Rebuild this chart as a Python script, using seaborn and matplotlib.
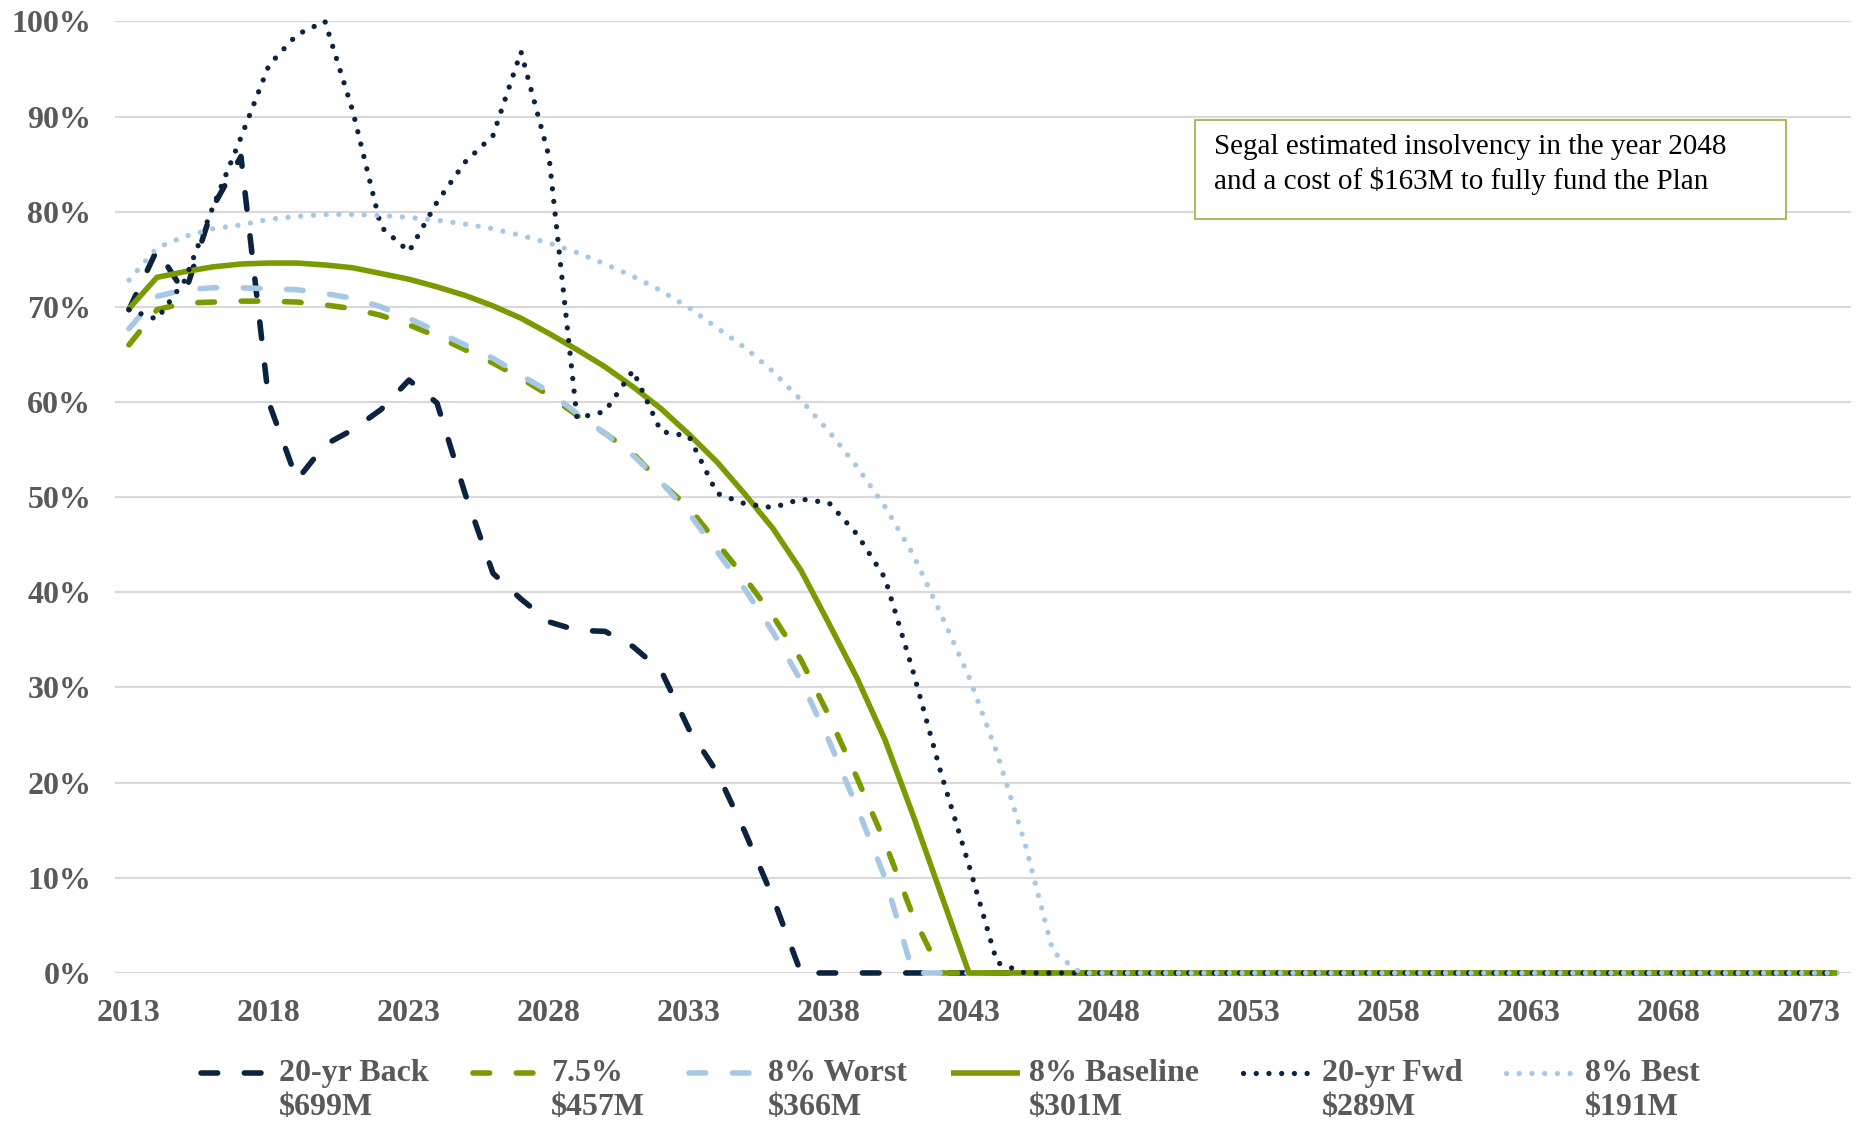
import numpy as np
import pandas as pd
import matplotlib
matplotlib.use('Agg')
import matplotlib.pyplot as plt
from matplotlib.patches import Rectangle
from matplotlib.legend_handler import HandlerLine2D
import seaborn as sns

# funded percentage by plan year
years = list(range(2013, 2075))

back_20yr = [69.7, 76.0, 71.4, 80.5, 85.8, 59.9, 51.8, 55.5, 57.1, 59.2,
             62.3, 59.9, 50.4, 42.0, 39.3, 36.9, 36.0, 35.9, 34.3, 31.8,
             25.6, 21.1, 14.8, 7.9, 0.0, 0.0, 0.0, 0.0, 0.0, 0.0,
             0.0, 0.0, 0.0, 0.0, 0.0, 0.0, 0.0, 0.0, 0.0, 0.0,
             0.0, 0.0, 0.0, 0.0, 0.0, 0.0, 0.0, 0.0, 0.0, 0.0,
             0.0, 0.0, 0.0, 0.0, 0.0, 0.0, 0.0, 0.0, 0.0, 0.0,
             0.0, 0.0]
rate_75 = [66.0, 69.7, 70.4, 70.5, 70.6, 70.6, 70.5, 70.2, 69.8, 69.1,
           68.1, 66.9, 65.5, 64.1, 62.5, 60.7, 58.6, 56.7, 54.6, 51.5,
           48.9, 45.2, 41.5, 37.5, 32.9, 27.0, 20.5, 13.7, 6.0, 0.0,
           0.0, 0.0, 0.0, 0.0, 0.0, 0.0, 0.0, 0.0, 0.0, 0.0,
           0.0, 0.0, 0.0, 0.0, 0.0, 0.0, 0.0, 0.0, 0.0, 0.0,
           0.0, 0.0, 0.0, 0.0, 0.0, 0.0, 0.0, 0.0, 0.0, 0.0,
           0.0, 0.0]
worst_8 = [67.7, 71.1, 71.8, 72.0, 72.0, 71.9, 71.8, 71.4, 70.9, 70.0,
           68.8, 67.4, 66.0, 64.6, 62.8, 61.1, 58.8, 56.7, 54.4, 51.6,
           48.3, 44.3, 40.3, 35.8, 30.7, 24.4, 17.4, 10.0, 0.0, 0.0,
           0.0, 0.0, 0.0, 0.0, 0.0, 0.0, 0.0, 0.0, 0.0, 0.0,
           0.0, 0.0, 0.0, 0.0, 0.0, 0.0, 0.0, 0.0, 0.0, 0.0,
           0.0, 0.0, 0.0, 0.0, 0.0, 0.0, 0.0, 0.0, 0.0, 0.0,
           0.0, 0.0]
baseline_8 = [69.8, 73.1, 73.7, 74.2, 74.5, 74.6, 74.6, 74.4, 74.1, 73.5,
              72.9, 72.1, 71.2, 70.1, 68.8, 67.2, 65.5, 63.7, 61.6, 59.3,
              56.6, 53.7, 50.3, 46.7, 42.3, 36.7, 31.0, 24.5, 16.6, 8.3,
              0.0, 0.0, 0.0, 0.0, 0.0, 0.0, 0.0, 0.0, 0.0, 0.0,
              0.0, 0.0, 0.0, 0.0, 0.0, 0.0, 0.0, 0.0, 0.0, 0.0,
              0.0, 0.0, 0.0, 0.0, 0.0, 0.0, 0.0, 0.0, 0.0, 0.0,
              0.0, 0.0]
fwd_20yr = [69.7, 68.7, 72.8, 80.5, 87.8, 95.4, 98.6, 100.0, 90.5, 78.4,
            75.8, 81.0, 85.2, 88.0, 96.8, 85.8, 58.3, 59.0, 63.3, 56.9,
            56.4, 50.4, 49.3, 48.9, 49.8, 49.4, 46.1, 41.5, 31.7, 21.0,
            11.3, 1.1, 0.0, 0.0, 0.0, 0.0, 0.0, 0.0, 0.0, 0.0,
            0.0, 0.0, 0.0, 0.0, 0.0, 0.0, 0.0, 0.0, 0.0, 0.0,
            0.0, 0.0, 0.0, 0.0, 0.0, 0.0, 0.0, 0.0, 0.0, 0.0,
            0.0, 0.0]
best_8 = [72.8, 76.2, 77.4, 78.2, 78.6, 79.2, 79.5, 79.7, 79.7, 79.6,
          79.4, 79.1, 78.7, 78.2, 77.5, 76.7, 75.7, 74.5, 73.2, 71.7,
          69.9, 67.8, 65.7, 63.2, 60.2, 56.9, 53.2, 49.0, 44.0, 37.7,
          31.1, 23.1, 13.6, 2.2, 0.0, 0.0, 0.0, 0.0, 0.0, 0.0,
          0.0, 0.0, 0.0, 0.0, 0.0, 0.0, 0.0, 0.0, 0.0, 0.0,
          0.0, 0.0, 0.0, 0.0, 0.0, 0.0, 0.0, 0.0, 0.0, 0.0,
          0.0, 0.0]

series_names = ['20-yr Back', '7.5%', '8% Worst', '8% Baseline', '20-yr Fwd', '8% Best']
series_costs = ['699', '457', '366', '301', '289', '191']
series_values = [back_20yr, rate_75, worst_8, baseline_8, fwd_20yr, best_8]

x_ticks = list(range(2013, 2074, 5))
y_ticks = list(range(0, 101, 10))

note_lines = ['Segal estimated insolvency in the year 2048',
              'and a cost of \\$163M to fully fund the Plan']

NAVY = '#0C2340'
GREEN = '#7A9A01'
LIGHT = '#A7C8E4'
GRAY = '#595959'

DASH = (3, 4.8)
DOT = (0.01, 2.4)
styles = [
    dict(color=NAVY, linewidth=4.0, dashes=DASH, dash_capstyle='round'),
    dict(color=GREEN, linewidth=4.0, dashes=DASH, dash_capstyle='round'),
    dict(color=LIGHT, linewidth=4.0, dashes=DASH, dash_capstyle='round'),
    dict(color=GREEN, linewidth=4.0, solid_capstyle='butt'),
    dict(color=NAVY, linewidth=3.8, dashes=DOT, dash_capstyle='round'),
    dict(color=LIGHT, linewidth=3.8, dashes=DOT, dash_capstyle='round'),
]


class TopLineHandler(HandlerLine2D):
    """legend handle aligned with the first line of a two-line label"""
    def __init__(self, shift, **kw):
        super().__init__(**kw)
        self.shift = shift

    def create_artists(self, legend, orig_handle, xdescent, ydescent,
                       width, height, fontsize, trans):
        arts = super().create_artists(legend, orig_handle, xdescent, ydescent,
                                      width, height, fontsize, trans)
        for a in arts:
            xd, yd = a.get_data()
            a.set_data(xd, np.asarray(yd) + self.shift)
        return arts


sns.set_style('white')
plt.rcParams['font.family'] = ['Liberation Serif', 'DejaVu Serif']

fig, ax = plt.subplots(figsize=(18.63, 11.23), dpi=100)
fig.subplots_adjust(left=0.0617, right=0.9936, top=0.981, bottom=0.1336)

for name, vals, st in zip(series_names, series_values, styles):
    df = pd.DataFrame({'year': years, 'funded': vals})
    sns.lineplot(data=df, x='year', y='funded', ax=ax, label=name,
                 clip_on=False, legend=False, **st)

ax.set_xlim(2012.5, 2074.5)
ax.set_ylim(0, 100)
ax.set_xticks(x_ticks)
ax.set_yticks(y_ticks)
ax.set_yticklabels([f'{v}%' for v in y_ticks])
ax.set_xlabel('')
ax.set_ylabel('')
ax.yaxis.grid(True, color='#D9D9D9', linewidth=1.6)
ax.xaxis.grid(False)
ax.set_axisbelow(True)
for s in ax.spines.values():
    s.set_visible(False)
ax.tick_params(axis='y', length=0, pad=17, labelsize=23, labelcolor=GRAY)
ax.tick_params(axis='x', length=0, pad=19, labelsize=23, labelcolor=GRAY)
for lab in ax.get_xticklabels() + ax.get_yticklabels():
    lab.set_fontweight('bold')

# note box
fig.add_artist(Rectangle((0.6416, 0.8053), 0.3170, 0.0878, transform=fig.transFigure,
                         facecolor='white', edgecolor='#9DB84B', linewidth=1.3))
fig.text(0.6517, 0.8695, note_lines[0], fontsize=21, color='black', va='center', ha='left')
fig.text(0.6517, 0.8390, note_lines[1], fontsize=21, color='black', va='center', ha='left')

handles = ax.get_lines()[:len(series_names)]
labels = [f'{n}\n\\${c}M' for n, c in zip(series_names, series_costs)]
leg = fig.legend(handles, labels, loc='upper center', bbox_to_anchor=(0.51, 0.071),
                 ncol=6, frameon=False, handlelength=2.16, handletextpad=0.3,
                 columnspacing=1.375, borderpad=0,
                 prop=dict(family='Liberation Serif', weight='bold', size=23),
                 labelcolor=GRAY,
                 handler_map={h: TopLineHandler(12.5) for h in handles})

fig.savefig('out.png', dpi=100)
